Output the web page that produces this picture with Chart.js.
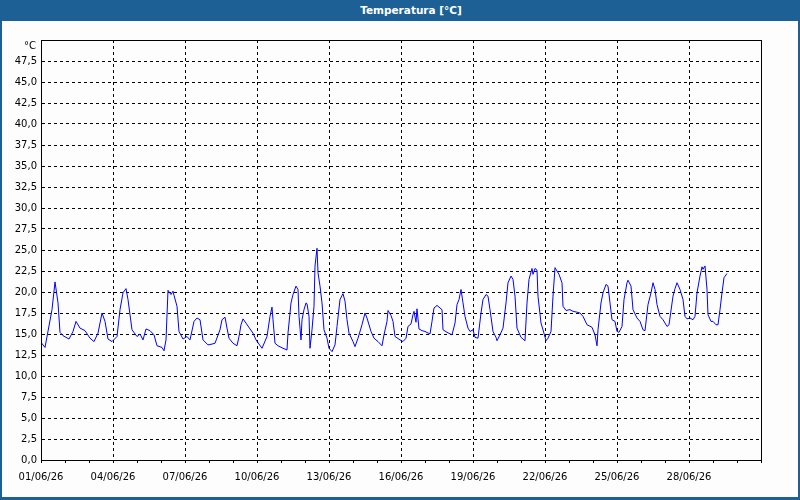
<!DOCTYPE html>
<html>
<head>
<meta charset="utf-8">
<script src="https://cdn.jsdelivr.net/npm/chart.js@4.4.1/dist/chart.umd.min.js"></script>
<style>
    html, body { margin: 0; padding: 0; background: #fff; }
    #frame {
        position: relative; width: 800px; height: 500px;
        box-sizing: border-box; border: 2px solid #1d6096; border-top: none; border-bottom-width: 3px;
        background: #fcfdfc; overflow: hidden;
    }
    #header {
        position: absolute; left: -2px; top: 0; width: 800px; height: 21px;
        background: #1d6096; color: #fff;
    }
    #title {
        position: absolute; left: 411px; top: 0; transform: translateX(-50%);
        font: bold 10.5px "DejaVu Sans", sans-serif; line-height: 21px; white-space: nowrap;
    }
    #chart { position: absolute; left: -2px; top: 0; }
</style>
</head>
<body>
<div id="frame">
    <canvas id="chart" width="800" height="500"></canvas>
    <div id="header"><span id="title">Temperatura [°C]</span></div>
</div>
<script>
// hours since 01/06/26 00:00
const hours = [
    0, 4, 11, 14, 17, 19, 22, 28, 32, 35, 39, 44, 49, 53, 57, 61, 64, 67, 71, 76, 79, 82, 85, 87, 91, 96, 99,
    102, 105, 109, 113, 116, 121, 123, 125, 127, 130, 132, 133, 136, 138, 142, 146, 149, 153, 156, 159, 162,
    167, 171, 174,
    179, 181, 184, 186, 188, 192, 196, 198, 200, 202, 205, 209, 212, 215, 218, 221, 226, 229, 231, 232, 234,
    237, 242, 246, 247, 250, 252, 255, 257, 258, 260, 261, 263, 265, 266, 268, 269, 271, 273, 274, 276, 277,
    279, 281, 283, 286, 288, 291, 294, 296, 299, 302, 304, 306, 308, 312, 314, 317, 321, 324, 326, 330, 333,
    337, 341, 343, 346, 347, 350, 352, 354,
    359, 362, 365, 367, 370, 372, 373, 375, 376, 378, 381, 384, 389, 391, 393, 396, 398, 401, 402, 406, 411,
    414, 416, 418, 420, 422, 424, 427, 429, 432, 434, 437, 440, 442, 445, 447, 449, 452, 455, 456, 459, 462,
    465, 467, 470, 472, 474, 476, 480, 484, 486, 488, 491, 492, 494, 496, 497, 500, 502, 505, 507, 510, 512,
    514, 516, 518, 521, 522, 525, 529, 532, 536,
    539, 542, 546, 551, 554, 556, 557, 560, 562, 565, 567, 569, 571, 574, 576, 578, 581, 583, 586, 587, 590,
    592, 596, 599, 602, 604, 607, 610, 612, 614, 616, 619, 622, 626, 628, 632, 634, 636, 639, 642, 644, 646,
    649, 652, 654, 656, 659, 661, 662, 664, 666, 667, 670, 672, 675, 677, 679, 681, 683, 686
];

const temps = [
    14.0, 13.4, 17.9, 21.2, 18.7, 15.2, 14.8, 14.4, 15.3, 16.5, 15.7, 15.4, 14.5, 14.1, 15.1, 17.5, 16.5, 14.4,
    14.1, 14.7, 17.9, 19.9, 20.4, 19.1, 15.5, 14.7, 15.0,
    14.3, 15.6, 15.4, 14.9, 13.6, 13.4, 13.0, 14.3, 20.2, 19.7, 20.1, 19.6, 18.3, 15.3, 14.4, 14.7, 14.3, 16.5,
    16.9, 16.7, 14.3, 13.7, 13.8, 13.9,
    15.5, 16.7, 17.0, 15.7, 14.5, 13.9, 13.6, 14.7, 16.1, 16.8, 16.3, 15.6, 15.1, 14.3, 13.8, 13.3, 14.7, 17.1,
    18.2, 16.7, 13.9,
    13.6, 13.3, 13.1, 15.1, 18.7, 19.7, 20.7, 20.3, 17.1, 14.3, 16.7, 17.9, 18.7, 18.6, 17.1, 13.3, 15.5, 18.3,
    23.1, 25.2, 22.3,
    20.7, 18.7, 15.5, 14.5, 13.3, 12.9, 13.7, 15.9, 19.1, 19.8, 18.9, 16.7, 15.1, 14.1, 13.5, 14.5, 16.1, 17.5,
    16.9, 15.3, 14.5,
    14.1, 13.6, 14.9, 16.5, 17.8, 17.2, 16.5, 14.7,
    14.3, 14.1, 14.5, 15.9, 16.2, 17.3, 17.7, 16.4, 18.0, 15.6, 15.4, 15.3, 15.0, 16.5, 18.1, 18.4, 18.2, 17.9,
    15.5, 15.2, 14.9,
    16.3, 18.5, 19.1, 20.3, 18.7, 17.1, 15.7, 15.3, 15.5, 14.6, 14.5, 17.5, 19.1, 19.7, 19.5, 17.9, 15.3, 14.6,
    14.2, 14.9, 15.7,
    18.7, 21.1, 21.9, 21.5, 19.5, 15.7, 14.6, 14.2, 18.7, 21.5, 22.8, 22.1, 22.8, 22.6, 19.5, 16.3, 15.5, 14.2,
    14.5, 15.3, 19.5,
    22.9, 22.5, 22.1, 21.1, 18.3, 17.8, 17.9, 17.7, 17.6,
    17.5, 17.1, 16.1, 15.8, 14.9, 13.6, 15.5, 18.7, 19.9, 20.9, 20.7, 18.7, 16.7, 16.5, 15.3, 15.2, 15.9, 19.1,
    21.1, 21.4, 20.7,
    17.9, 16.9, 16.5, 15.5, 15.4, 18.5, 19.9, 21.1, 20.3, 18.5, 17.1, 16.7, 15.9, 16.1, 19.5, 20.4, 21.1, 20.3,
    19.1, 17.1, 16.8,
    16.9, 16.7, 17.1, 19.9, 21.9, 23.0, 22.7, 23.1, 20.3, 17.3, 16.5, 16.5, 16.1, 16.1, 17.9, 19.9, 21.7, 22.2
];

const dayLabels = ['01/06/26', '04/06/26', '07/06/26', '10/06/26', '13/06/26',
    '16/06/26', '19/06/26', '22/06/26', '25/06/26', '28/06/26'];
const unitLabel = '°C';

const FONT = { family: '"DejaVu Sans", sans-serif', size: 10 };

const plotBox = {
    id: 'plotBox',
    afterDraw: function (chart) {
        const a = chart.chartArea;
        const ctx = chart.ctx;
        ctx.save();
        ctx.setLineDash([]);
        ctx.strokeStyle = '#000';
        ctx.lineWidth = 1;
        ctx.strokeRect(Math.round(a.left) + 0.5, Math.round(a.top) + 0.5,
            Math.round(a.right - a.left), Math.round(a.bottom - a.top));
        ctx.fillStyle = '#000';
        ctx.font = '10px "DejaVu Sans", sans-serif';
        ctx.textAlign = 'right';
        ctx.textBaseline = 'middle';
        ctx.fillText(unitLabel, a.left - 5, a.top + 6);
        ctx.restore();
    }
};

const points = hours.map(function (h, i) { return { x: h, y: temps[i] }; });

new Chart(document.getElementById('chart'), {
    type: 'line',
    data: {
        datasets: [{
            data: points,
            borderColor: '#0000ff',
            borderWidth: 1,
            pointRadius: 0,
            tension: 0,
            fill: false
        }]
    },
    options: {
        responsive: false,
        animation: false,
        layout: { padding: { left: 0, top: 40, right: 39, bottom: 0 } },
        plugins: { legend: { display: false }, tooltip: { enabled: false }, title: { display: false } },
        scales: {
            x: {
                type: 'linear',
                min: 0,
                max: 720,
                afterFit: function (s) { s.height = 40; },
                border: { display: true, color: '#000', dash: [3, 3] },
                grid: {
                    color: function (c) { return c.tick && c.tick.value % 72 === 0 ? '#000' : 'rgba(0,0,0,0)'; },
                    tickColor: '#000',
                    tickLength: 3,
                    tickBorderDash: [],
                    lineWidth: 1
                },
                ticks: {
                    stepSize: 24,
                    autoSkip: false,
                    maxRotation: 0,
                    padding: 8,
                    color: '#000',
                    font: FONT,
                    callback: function (v) {
                        if (v % 72 !== 0) return '';
                        return dayLabels[v / 72] || '';
                    }
                }
            },
            y: {
                min: 0,
                max: 50,
                afterFit: function (s) { s.width = 41; },
                border: { display: true, color: '#000', dash: [3, 3] },
                grid: {
                    color: '#000',
                    lineWidth: 1,
                    drawTicks: false
                },
                ticks: {
                    stepSize: 2.5,
                    padding: 4,
                    color: '#000',
                    font: FONT,
                    callback: function (v) {
                        if (v >= 50) return '';
                        return v.toFixed(1).replace('.', ',');
                    }
                }
            }
        }
    },
    plugins: [plotBox]
});
</script>
</body>
</html>
